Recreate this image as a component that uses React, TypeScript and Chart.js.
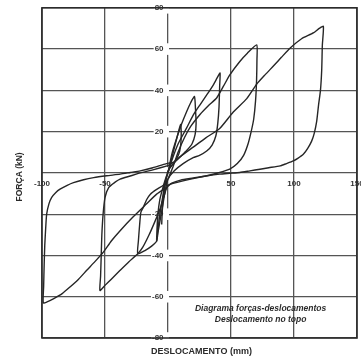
import React, { useEffect, useRef } from "react";
import { Chart, registerables } from "chart.js";

Chart.register(...registerables);

// Axis ticks
const xTicks = [-100, -50, 0, 50, 100, 150];
const yTicks = [-80, -60, -40, -20, 0, 20, 40, 60, 80];

// Titles / annotation text
const xTitle = "DESLOCAMENTO (mm)";
const yTitle = "FORÇA (kN)";
const noteLines = ["Diagrama forças-deslocamentos", "Deslocamento no topo"];

// Hysteresis cycles: displacement (mm) and force (kN)
const dispC1 = [0, 2.5, 5, 7.5, 10, 10.5, 10, 8.5, 6, 3, 0, -2, -3.5, -4.5, -5, -4.5, -3.5, -2, 0];
const forceC1 = [0, 6, 12, 18, 23.5, 19, 13, 9, 6, 3.5, 1, -5, -11, -18, -25, -18, -10, -4, 0];

const dispC2 = [0, 3, 7, 11, 15, 18, 21, 21.8, 22.3, 21.5, 19, 15, 10, 5, 1, -2, -4, -6, -7.5, -9, -8.7, -8, -6.5, -4, -1.5, 0];
const forceC2 = [0, 9, 17, 24, 30, 34, 37, 31, 24, 18.5, 14, 11, 8, 5, 2, -4, -11, -18, -25, -33, -27, -20, -13, -7, -2, 0];

const dispC3 = [0, 3, 8, 14.8, 20, 25.4, 31, 36, 39, 41.3, 41, 40.5, 39.5, 38, 35, 30.7, 25, 20, 12, 5, 0, -2, -4, -6, -8, -9, -13, -18, -24, -23.5, -22.5, -21.5, -19.6, -17, -14, -9, -3.7, 0];
const forceC3 = [0, 6, 14, 21.8, 28, 33, 38, 42.7, 46, 48.4, 42, 32, 24, 18, 13.5, 10.6, 8.5, 7.4, 4.5, 1, -3, -8, -15, -22, -29, -33, -35.5, -37.5, -39.2, -33, -25, -19, -16.7, -13, -10.3, -8, -6, -3];

const dispC4 = [0, 4, 8, 13, 18, 25.4, 32, 38.6, 44, 49.2, 57, 63, 70.4, 70.6, 70.3, 69.5, 68, 66, 63.5, 60, 55, 49, 41, 30, 18, 8, 0, -3, -6, -10, -15, -20, -24, -31, -38, -45, -50, -54, -53.5, -53, -52.5, -51.5, -50, -47, -42, -38, -30, -22, -12, 0];
const forceC4 = [-3, 3, 10, 17, 22.5, 28.3, 32.5, 36.3, 42, 47.6, 54, 58, 62, 55, 45, 35, 26, 20, 14, 8.5, 4.5, 1.8, 0.2, -1.5, -3, -4.5, -6, -11, -17, -23, -30, -36, -39.2, -43, -47.2, -51.5, -54.5, -57, -50, -40, -30, -20, -12, -7, -4.5, -3, -1.5, 0, 1.5, 3.5];

const dispC5 = [0, 5, 10, 20, 30, 41, 51.8, 62.5, 70.4, 77, 84, 90, 97, 106, 115.3, 120, 123.3, 122.5, 122, 121, 119.5, 118, 116, 114, 111, 107.4, 103, 99.5, 94, 89, 80, 73, 65, 57, 49, 41, 30, 20, 10, 3, -1, -9, -17, -28, -38, -45, -51.3, -58, -64.5, -71, -77.8, -84, -91, -96, -99, -98.7, -98.3, -97.8, -97, -96.3, -94.5, -92.3, -89, -85.7, -80, -75, -67, -59, -48.7, -38, -30, -22, -12, -4, 2];
const forceC5 = [3.5, 5.5, 8, 12.5, 17, 21.5, 29.5, 36, 43, 47.5, 52, 56, 60.5, 65, 67.8, 70, 71, 62, 50, 40, 33, 25, 19, 15.4, 12, 9, 7, 5.8, 4.5, 3.4, 2.5, 1.8, 1, 0.2, -0.2, -0.6, -1.5, -2.5, -3.5, -5, -7, -10.3, -15, -21.5, -28, -33, -38.4, -43, -47.2, -51.5, -55.3, -58.5, -61, -62.5, -63, -55, -45, -35, -26, -20, -15, -11.9, -9.5, -7.9, -6, -4.7, -3.3, -2.3, -1.4, -0.6, 0.2, 1, 2.5, 4, 5];

const cycles = [
  [dispC1, forceC1],
  [dispC2, forceC2],
  [dispC3, forceC3],
  [dispC4, forceC4],
  [dispC5, forceC5],
];

const FONT = "'Liberation Sans', Arial, sans-serif";

const framePlugin = {
  id: "frameAndText",
  afterDraw(chart: any) {
    const { ctx, chartArea, scales } = chart;
    ctx.save();
    ctx.strokeStyle = "#2b2b2b";
    ctx.lineWidth = 1.6;
    ctx.strokeRect(chartArea.left, chartArea.top, chartArea.right - chartArea.left, chartArea.bottom - chartArea.top);

    ctx.fillStyle = "#2a2a2a";
    ctx.font = `bold 9px ${FONT}`;
    ctx.textAlign = "center";
    ctx.textBaseline = "middle";
    ctx.fillText(xTitle, (chartArea.left + chartArea.right) / 2 + 2, chartArea.bottom + 14);

    ctx.save();
    ctx.font = `bold 8.5px ${FONT}`;
    ctx.translate(chartArea.left - 22, (chartArea.top + chartArea.bottom) / 2 + 4);
    ctx.rotate(-Math.PI / 2);
    ctx.fillText(yTitle, 0, 0);
    ctx.restore();

    ctx.font = `italic bold 8.5px ${FONT}`;
    const nx = scales.x.getPixelForValue(73.5);
    ctx.fillText(noteLines[0], nx, scales.y.getPixelForValue(-66));
    ctx.fillText(noteLines[1], nx, scales.y.getPixelForValue(-71.3));
    ctx.restore();
  },
};

export default function App() {
  const ref = useRef<HTMLCanvasElement>(null);
  useEffect(() => {
    if (!ref.current) return;
    const tickFont = { family: FONT, size: 8, weight: "bold" as const };
    const chart = new Chart(ref.current, {
      type: "scatter",
      data: {
        datasets: cycles.map(([xs, ys]) => ({
          data: xs.map((x, i) => ({ x, y: ys[i] })),
          showLine: true,
          borderColor: "#262626",
          borderWidth: 1.4,
          pointRadius: 0,
          tension: 0.2,
          fill: false,
        })),
      },
      options: {
        responsive: false,
        animation: false,
        layout: { padding: { left: 42, top: 6, right: 23, bottom: 22 } },
        plugins: { legend: { display: false }, tooltip: { enabled: false } },
        scales: {
          x: {
            type: "linear",
            position: { y: 0 } as any,
            min: xTicks[0],
            max: xTicks[xTicks.length - 1],
            afterBuildTicks: (s: any) => { s.ticks = xTicks.map((v) => ({ value: v })); },
            ticks: {
              autoSkip: false,
              maxRotation: 0,
              padding: 6,
              color: "#333",
              font: tickFont,
              callback: (v: any) => (v === 0 ? "" : String(v)),
            },
            grid: { color: "#555", lineWidth: 1.3, drawTicks: false },
            border: { display: false },
          },
          y: {
            type: "linear",
            position: { x: 0 } as any,
            min: yTicks[0],
            max: yTicks[yTicks.length - 1],
            afterBuildTicks: (s: any) => { s.ticks = yTicks.map((v) => ({ value: v })); },
            ticks: {
              autoSkip: false,
              color: "#333",
              font: tickFont,
              showLabelBackdrop: true,
              backdropColor: "#ffffff",
              backdropPadding: 1,
              callback: (v: any) => (v === 0 ? "" : String(v) + "  "),
            },
            grid: { color: "#555", lineWidth: 1.3, drawTicks: false },
            border: { display: false },
          },
        },
      },
      plugins: [framePlugin],
    });
    return () => chart.destroy();
  }, []);
  return (
    <div style={{ position: "fixed", left: 0, top: 0, width: 361, height: 360, overflow: "hidden", background: "#fff" }}>
      <canvas ref={ref} width={380} height={360} style={{ display: "block" }} />
    </div>
  );
}
